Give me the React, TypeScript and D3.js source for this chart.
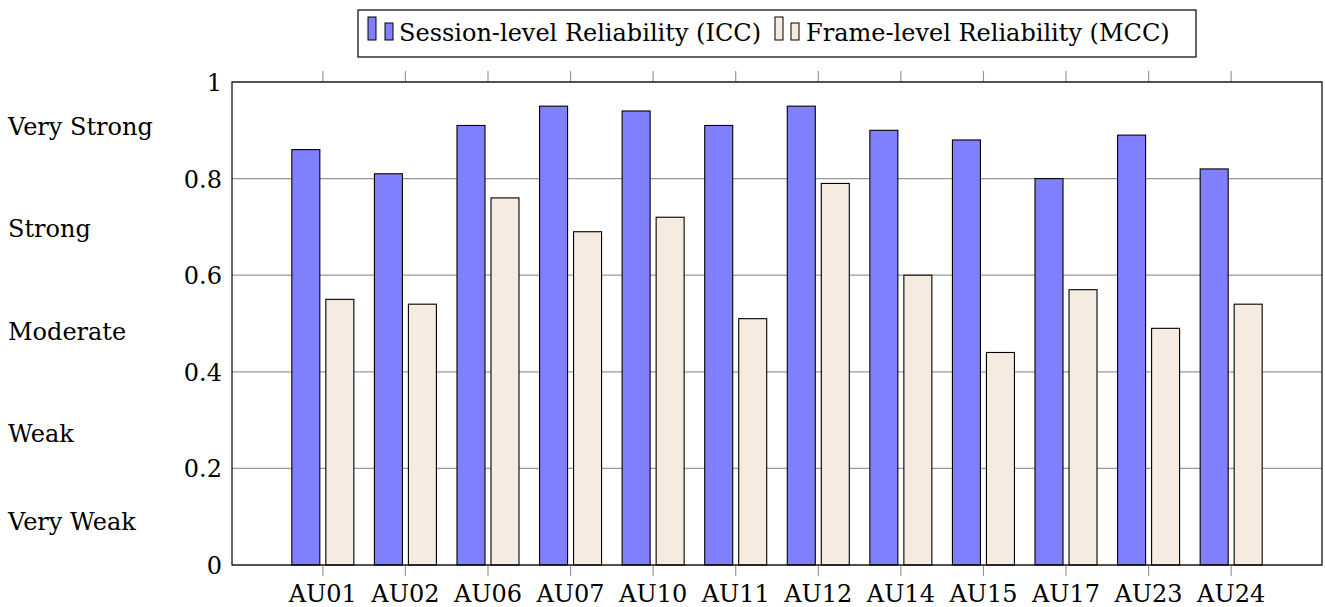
import React from "react";
import * as d3 from "d3";

const categories = ["AU01", "AU02", "AU06", "AU07", "AU10", "AU11", "AU12", "AU14", "AU15", "AU17", "AU23", "AU24"];
const iccValues = [0.86, 0.81, 0.91, 0.95, 0.94, 0.91, 0.95, 0.9, 0.88, 0.8, 0.89, 0.82];
const mccValues = [0.55, 0.54, 0.76, 0.69, 0.72, 0.51, 0.79, 0.6, 0.44, 0.57, 0.49, 0.54];
const yTicks = [0, 0.2, 0.4, 0.6, 0.8, 1];
const strengthLabels = ["Very Strong", "Strong", "Moderate", "Weak", "Very Weak"];
const strengthLevels = [0.909, 0.697, 0.484, 0.273, 0.091];
const seriesNames = ["Session-level Reliability (ICC)", "Frame-level Reliability (MCC)"];

const width = 1325;
const height = 607;
const font = "'DejaVu Serif', 'Liberation Serif', serif";
const fs = 24;
const blue = "#8080ff";
const beige = "#f5ebe0";

export default function App() {
  const left = 232;
  const right = 1322;
  const top = 82;
  const bottom = 565;

  const x = d3.scaleLinear().domain([-1.1, categories.length - 1 + 1.1]).range([left, right]);
  const y = d3.scaleLinear().domain([0, 1]).range([bottom, top]);
  const barW = 28;
  const offset = 17;

  return (
    <svg width={width} height={height} style={{ position: "absolute", left: 0, top: 0 }} fontFamily={font}>
      {/* gridlines */}
      {yTicks.map((t) => (
        <line key={t} x1={left} x2={right} y1={y(t)} y2={y(t)} stroke="#999" strokeWidth={1.2} />
      ))}
      {/* bars */}
      {categories.map((c, i) => (
        <g key={c}>
          <rect x={x(i) - offset - barW / 2} y={y(iccValues[i])} width={barW} height={bottom - y(iccValues[i])}
            fill={blue} stroke="#000" strokeWidth={1.1} />
          <rect x={x(i) + offset - barW / 2} y={y(mccValues[i])} width={barW} height={bottom - y(mccValues[i])}
            fill={beige} stroke="#000" strokeWidth={1.1} />
        </g>
      ))}
      {/* x ticks */}
      {categories.map((c, i) => (
        <g key={c}>
          <line x1={x(i)} x2={x(i)} y1={bottom} y2={bottom + 11} stroke="#999" strokeWidth={1.2} />
          <line x1={x(i)} x2={x(i)} y1={top} y2={top - 11} stroke="#999" strokeWidth={1.2} />
          <text x={x(i)} y={bottom + 37} textAnchor="middle" fontSize={fs}>{c}</text>
        </g>
      ))}
      {/* frame */}
      <rect x={left} y={top} width={right - left} height={bottom - top} fill="none" stroke="#000" strokeWidth={1.2} />
      {/* y labels */}
      {yTicks.map((t) => (
        <text key={t} x={222} y={y(t) + 9} textAnchor="end" fontSize={fs}>{d3.format("")(t)}</text>
      ))}
      {/* strength labels */}
      {strengthLabels.map((s, i) => (
        <text key={s} x={8} y={y(strengthLevels[i]) + 9} fontSize={fs}>{s}</text>
      ))}
      {/* legend */}
      <rect x={358} y={10} width={838} height={47} fill="#fff" stroke="#000" strokeWidth={1.2} />
      <rect x={368} y={17} width={8} height={23} fill={blue} stroke="#000" strokeWidth={1} />
      <rect x={385} y={23} width={8} height={17} fill={blue} stroke="#000" strokeWidth={1} />
      <text x={399} y={41} fontSize={fs}>{seriesNames[0]}</text>
      <rect x={775} y={17} width={8} height={23} fill={beige} stroke="#000" strokeWidth={1} />
      <rect x={791} y={23} width={8} height={17} fill={beige} stroke="#000" strokeWidth={1} />
      <text x={806} y={41} fontSize={fs}>{seriesNames[1]}</text>
    </svg>
  );
}
